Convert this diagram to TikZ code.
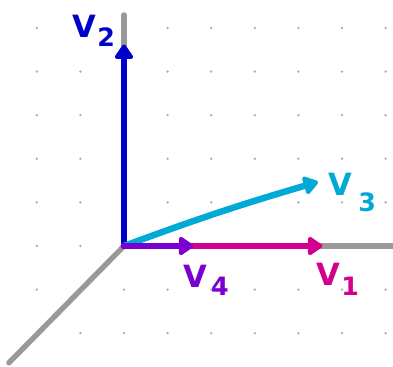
\documentclass[tikz,border=0pt]{standalone}
\usepackage{fontspec}
\setmainfont{DejaVu Sans}
\usetikzlibrary{arrows.meta}
\definecolor{axisgray}{HTML}{999999}
\definecolor{dotgray}{HTML}{AAAAAA}
\definecolor{vblue}{HTML}{0000CC}
\definecolor{vcyan}{HTML}{00AAD6}
\definecolor{vmag}{HTML}{D2008C}
\definecolor{vpur}{HTML}{7A00D2}
\tikzset{
  axisline/.style={axisgray, line width=3.5pt, line cap=round},
  vec/.style={line width=4.2pt, line cap=round,
    -{Triangle[round, length=10.5pt, width=13.5pt]}},
  vlett/.style={font=\fontsize{20}{20}\bfseries\selectfont, inner sep=0pt},
  vnum/.style={font=\fontsize{16.5}{16.5}\bfseries\selectfont, inner sep=0pt},
}
\begin{document}
\begin{tikzpicture}
\useasboundingbox (-2.844,-2.775) rectangle (6.17,5.642);
% grid dots
\foreach \i in {-2,...,6}
  \foreach \j in {-2,...,5}
    \fill[dotgray] (\i,\j) circle (0.03);
% axes
\coordinate (O) at (0,0);
\coordinate (ztop) at (0,5.3);
\coordinate (xend) at (6.3,0);
\coordinate (yend) at (-2.64,-2.68);
\draw[axisline] (O) -- (ztop);
\draw[axisline] (O) -- (xend);
\draw[axisline] (O) -- (yend);
% vectors
\coordinate (t2) at (0,4.62);
\coordinate (t3) at (4.45,1.47);
\coordinate (t1) at (4.55,0);
\coordinate (t4) at (1.59,0);
\draw[vec, vblue] (O) -- (t2);
\draw[vec, vcyan] (O) to[bend left=2] (t3);
\draw[vec, vmag] (O) -- (t1);
\draw[vec, vpur] (O) -- (t4);
% labels
\node[vlett, text=vblue] (l2v) at (-0.91,5.04) {V};
\node[vnum, text=vblue] (l2n) at (-0.41,4.78) {2};
\node[vlett, text=vcyan] (l3v) at (4.97,1.42) {V};
\node[vnum, text=vcyan] (l3n) at (5.58,1.0) {3};
\node[vlett, text=vmag] (l1v) at (4.69,-0.64) {V};
\node[vnum, text=vmag] (l1n) at (5.19,-0.93) {1};
\node[vlett, text=vpur] (l4v) at (1.64,-0.69) {V};
\node[vnum, text=vpur] (l4n) at (2.20,-0.92) {4};
\end{tikzpicture}
\end{document}
